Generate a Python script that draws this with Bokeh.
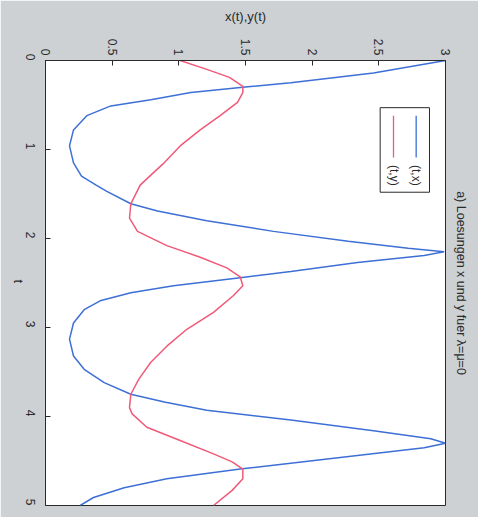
import math
from bokeh.plotting import figure
from bokeh.models import Range1d, FixedTicker, Title
from bokeh.core.properties import value
from bokeh.embed import file_html
from bokeh.resources import INLINE

# ---- data ----
t_x = [0.00, 0.14, 0.25, 0.30, 0.36, 0.44, 0.51, 0.62, 0.78, 0.96, 1.15, 1.30, 1.40,
       1.47, 1.61, 1.69, 1.80, 1.92, 2.03, 2.11, 2.15, 2.19, 2.27, 2.37, 2.44, 2.53,
       2.61, 2.70, 2.80, 2.95, 3.13, 3.32, 3.47, 3.62, 3.75, 3.84, 3.93, 4.04, 4.16,
       4.25, 4.30, 4.35, 4.46, 4.59, 4.70, 4.80, 4.91, 5.00]
x_vals = [3.00, 2.46, 1.84, 1.48, 1.09, 0.79, 0.49, 0.31, 0.21, 0.18, 0.21, 0.27, 0.38,
          0.46, 0.64, 0.84, 1.21, 1.71, 2.27, 2.72, 2.99, 2.84, 2.34, 1.84, 1.46, 0.96,
          0.64, 0.41, 0.29, 0.21, 0.18, 0.21, 0.29, 0.44, 0.64, 0.90, 1.21, 1.84, 2.46,
          2.89, 3.00, 2.84, 2.21, 1.46, 0.91, 0.59, 0.36, 0.26]

t_y = [0.00, 0.10, 0.19, 0.29, 0.36, 0.47, 0.62, 0.78, 0.96, 1.15, 1.26, 1.40, 1.61,
       1.77, 1.92, 2.08, 2.21, 2.33, 2.43, 2.53, 2.64, 2.83, 3.02, 3.21, 3.39, 3.58,
       3.75, 3.90, 3.97, 4.12, 4.27, 4.42, 4.51, 4.59, 4.70, 4.83, 5.00]
y_vals = [1.01, 1.21, 1.38, 1.48, 1.48, 1.44, 1.31, 1.16, 1.01, 0.89, 0.81, 0.71, 0.64,
          0.63, 0.69, 0.91, 1.16, 1.36, 1.46, 1.48, 1.41, 1.26, 1.06, 0.91, 0.79, 0.70,
          0.64, 0.63, 0.65, 0.76, 1.01, 1.26, 1.40, 1.48, 1.48, 1.40, 1.26]

t_ticks = [0, 1, 2, 3, 4, 5]
v_ticks = [0, 0.5, 1, 1.5, 2, 2.5, 3]
series_labels = ["(t,x)", "(t,y)"]
title_text = "a) Loesungen x und y fuer \u03bb=\u03bc=0"
value_label = "x(t),y(t)"
t_label = "t"

BLUE = "#3d6fd6"
RED = "#f05a78"
BG = "#cdd1d4"
INK = "#2a2a2a"
FONT = "Liberation Sans"

p = figure(width=478, height=517, output_backend="svg", toolbar_location=None,
           x_range=Range1d(0, 3), y_range=Range1d(5, 0),
           x_axis_location="above", y_axis_location="left",
           min_border_left=45, min_border_right=33, min_border_top=60,
           min_border_bottom=12)
p.background_fill_color = "white"
p.border_fill_color = BG
p.outline_line_color = INK
p.outline_line_width = 1
p.grid.visible = False

# value axis (top)
xa = p.xaxis[0]
xa.ticker = FixedTicker(ticks=v_ticks)
xa.major_label_overrides = {0: "0", 1: "1", 2: "2", 3: "3"}
xa.major_label_orientation = -math.pi / 2
xa.axis_label = value_label
xa.axis_label_text_font = FONT
xa.axis_label_text_font_size = "13px"
xa.axis_label_text_font_style = "normal"
xa.axis_label_text_color = INK
xa.axis_label_standoff = 12

# time axis (left)
ya = p.yaxis[0]
ya.ticker = FixedTicker(ticks=t_ticks)
ya.major_label_orientation = -math.pi / 2
ya.axis_label = t_label
ya.axis_label_text_font = FONT
ya.axis_label_text_font_size = "13px"
ya.axis_label_text_font_style = "normal"
ya.axis_label_text_color = INK
ya.axis_label_standoff = 0
ya.axis_label_orientation = -math.pi / 2

for ax in (xa, ya):
    ax.major_label_text_font = FONT
    ax.major_label_text_font_size = "12px"
    ax.major_label_text_color = INK
    ax.major_tick_in = 5
    ax.major_tick_out = 0
    ax.minor_tick_in = 0
    ax.minor_tick_out = 0
    ax.axis_line_color = INK
    ax.major_tick_line_color = INK
xa.major_label_standoff = 5
ya.major_label_standoff = 15

# curves
p.line(x=x_vals, y=t_x, line_color=BLUE, line_width=1.5)
p.line(x=y_vals, y=t_y, line_color=RED, line_width=1.5)

# hand-drawn legend (rotated like the rest of the picture)
p.quad(left=[2.51], right=[2.88], top=[0.53], bottom=[1.48],
       fill_color="white", line_color=INK, line_width=1)
p.segment(x0=[2.78, 2.61], y0=[0.62, 0.62], x1=[2.78, 2.61], y1=[1.09, 1.09],
          line_color=[BLUE, RED], line_width=1.3)
p.text(x=[2.78, 2.61], y=[1.29, 1.29], text=series_labels, angle=-math.pi / 2,
       text_align="center", text_baseline="middle", text_font=value(FONT),
       text_font_size="12px", text_color=INK)

# title on the right, reading top to bottom
p.title.visible = False
t = Title(text=title_text, align="center", text_font=FONT, text_font_size="12.5px",
          text_font_style="normal", text_color=INK, standoff=16)
p.add_layout(t, "right")

open("out.html", "w").write(file_html(p, INLINE))
